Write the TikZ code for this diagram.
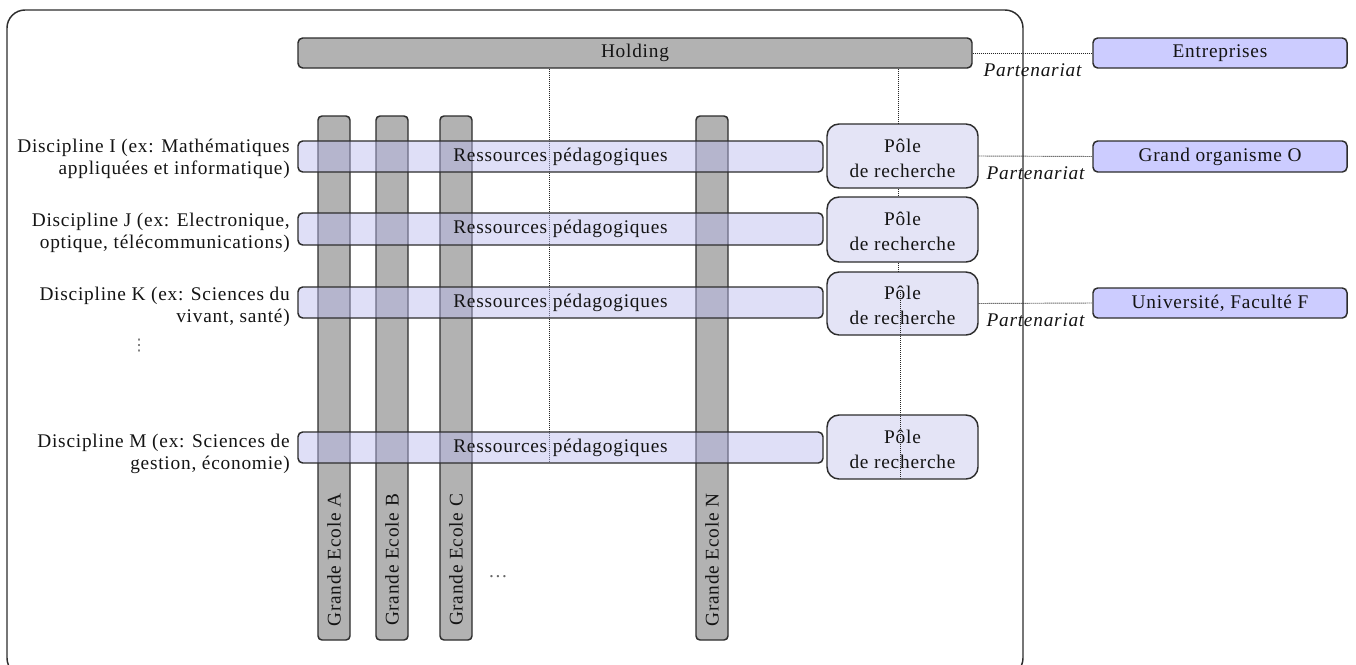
\documentclass[tikz,border=0pt]{standalone}
\usepackage{fontspec}
\setmainfont{Liberation Serif}[LetterSpace=4]
\newfontfamily\dejavu{DejaVu Sans}
\usetikzlibrary{fit}
\definecolor{gbox}{RGB}{178,178,178}
\definecolor{barfill}{RGB}{185,185,238}
\definecolor{polefill}{RGB}{228,228,246}
\definecolor{partfill}{RGB}{204,204,255}
\definecolor{edgecol}{RGB}{45,45,45}
\definecolor{txtcol}{RGB}{20,20,20}
\begin{document}
\begin{tikzpicture}[x=0.75pt,y=-0.75pt,
  base/.style={font=\fontsize{14.5}{16.5}\selectfont, text=txtcol},
  greybar/.style={draw=edgecol, line width=1.1pt, fill=gbox, rounded corners=3.5pt, inner sep=0pt},
  column/.style={draw=edgecol, line width=1.1pt, fill=gbox, rounded corners=3pt, inner sep=0pt},
  resbar/.style={draw=edgecol, line width=1.1pt, fill=barfill, fill opacity=0.45, rounded corners=3.5pt, inner sep=0pt},
  polebox/.style={draw=edgecol, line width=1.1pt, fill=polefill, rounded corners=9pt, inner sep=0pt},
  partbox/.style={draw=edgecol, line width=1.1pt, fill=partfill, rounded corners=3.5pt, inner sep=0pt},
  lbl/.style={base, inner sep=0pt},
  poletxt/.style={base, font=\fontsize{14.5}{18.75}\selectfont, align=center, inner sep=0pt},
  disc/.style={base, align=right, anchor=east, inner sep=0pt},
  ecole/.style={base, rotate=90, inner sep=0pt},
  dotline/.style={draw=black!85, line width=0.7pt, dash pattern=on 0.7pt off 0.8pt},
  outerbox/.style={draw=edgecol, line width=1.1pt, rounded corners=13.5pt},
  parttxt/.style={base, font=\fontsize{14.5}{16.5}\selectfont\itshape, midway, yshift=-12.75pt, inner sep=0pt}
]
\useasboundingbox (0,0) rectangle (1356,664);
\fill[white] (0,0) rectangle (1356,664);

% outer frame (its bottom lies below the picture)
\begin{scope}
  \clip (0,0) rectangle (1356,664);
  \draw[outerbox] (7,10) rectangle (1023,676);
\end{scope}

% reference coordinates
\coordinate (xh) at (549,0);
\coordinate (xp) at (898,0);
\coordinate (p3top) at (900,290);

% Holding
\node[greybar, fit={(298,38) (972,68)}] (H) {};

% Poles (boxes)
\node[polebox, fit={(827,124) (978,188)}] (Q1) {};
\node[polebox, fit={(827,197) (978,262)}] (Q2) {};
\node[polebox, fit={(827,272) (978,335)}] (Q3) {};
\node[polebox, fit={(827,415) (978,479)}] (Q4) {};

% dotted lines from the Holding
\draw[dotline] (H.south -| xh) -- (xh |- 0,462);
\draw[dotline] (H.south -| xp) -- (xp |- Q1.north);
\draw[dotline] (Q1.south -| xp) -- (xp |- Q2.north);
\draw[dotline] (Q2.south -| xp) -- (xp |- Q3.north);

\node[lbl] (tH) at (H.center) {Holding};

% Grande Ecole columns
\node[column, fit={(318,116) (350,640)}] (GA) {};
\node[column, fit={(376,116) (408,640)}] (GB) {};
\node[column, fit={(440,116) (472,640)}] (GC) {};
\node[column, fit={(696,116) (728,640)}] (GN) {};
\node[ecole] (tA) at (334,560) {Grande Ecole A};
\node[ecole] (tB) at (392,560) {Grande Ecole B};
\node[ecole] (tC) at (456,560) {Grande Ecole C};
\node[ecole] (tN) at (712,560) {Grande Ecole N};
\node[lbl, text=black!60] (dots) at (498,577) {…};

% Ressources bars (translucent)
\node[resbar, fit={(298,141) (823,172)}] (RI) {};
\node[resbar, fit={(298,213) (823,245)}] (RJ) {};
\node[resbar, fit={(298,287) (823,318)}] (RK) {};
\node[resbar, fit={(298,432) (823,463)}] (RM) {};
\node[lbl] (tRI) at (RI.center) {Ressources pédagogiques};
\node[lbl] (tRJ) at (RJ.center) {Ressources pédagogiques};
\node[lbl] (tRK) at (RK.center) {Ressources pédagogiques};
\node[lbl] (tRM) at (RM.center) {Ressources pédagogiques};

% Pole texts
\node[poletxt] (tQ1) at ([yshift=-1.5pt]Q1.center) {Pôle\\de recherche};
\node[poletxt] (tQ2) at ([yshift=-1.5pt]Q2.center) {Pôle\\de recherche};
\node[poletxt] (tQ3) at ([yshift=-1.5pt]Q3.center) {Pôle\\de recherche};
\node[poletxt] (tQ4) at ([yshift=-1.5pt]Q4.center) {Pôle\\de recherche};
\draw[dotline] (p3top) -- (p3top |- Q4.south);

% Discipline labels
\node[disc] (dI) at (290,159) {Discipline I (ex: Mathématiques\\appliquées et informatique)};
\node[disc] (dJ) at (290,233) {Discipline J (ex: Electronique,\\optique, télécommunications)};
\node[disc] (dK) at (290,307) {Discipline K (ex: Sciences du\\vivant, santé)};
\node[disc] (dM) at (290,454) {Discipline M (ex: Sciences de\\gestion, économie)};
\node[lbl, text=black!60] (vd) at (139,346) {\dejavu\fontsize{12}{12}\selectfont ⋮};

% Partners
\node[partbox, fit={(1093,38) (1347,68)}] (E) {};
\node[partbox, fit={(1093,141) (1347,172)}] (GO) {};
\node[partbox, fit={(1093,288) (1347,318)}] (U) {};
\node[lbl] (tE) at (E.center) {Entreprises};
\node[lbl] (tGO) at (GO.center) {Grand organisme O};
\node[lbl] (tU) at (U.center) {Université, Faculté F};

\draw[dotline] (H.east) -- node[parttxt] {Partenariat} (E.west);
\draw[dotline] (Q1.east) -- node[parttxt] {Partenariat} (GO.west);
\draw[dotline] (Q3.east) -- node[parttxt] {Partenariat} (U.west);
\end{tikzpicture}
\end{document}
